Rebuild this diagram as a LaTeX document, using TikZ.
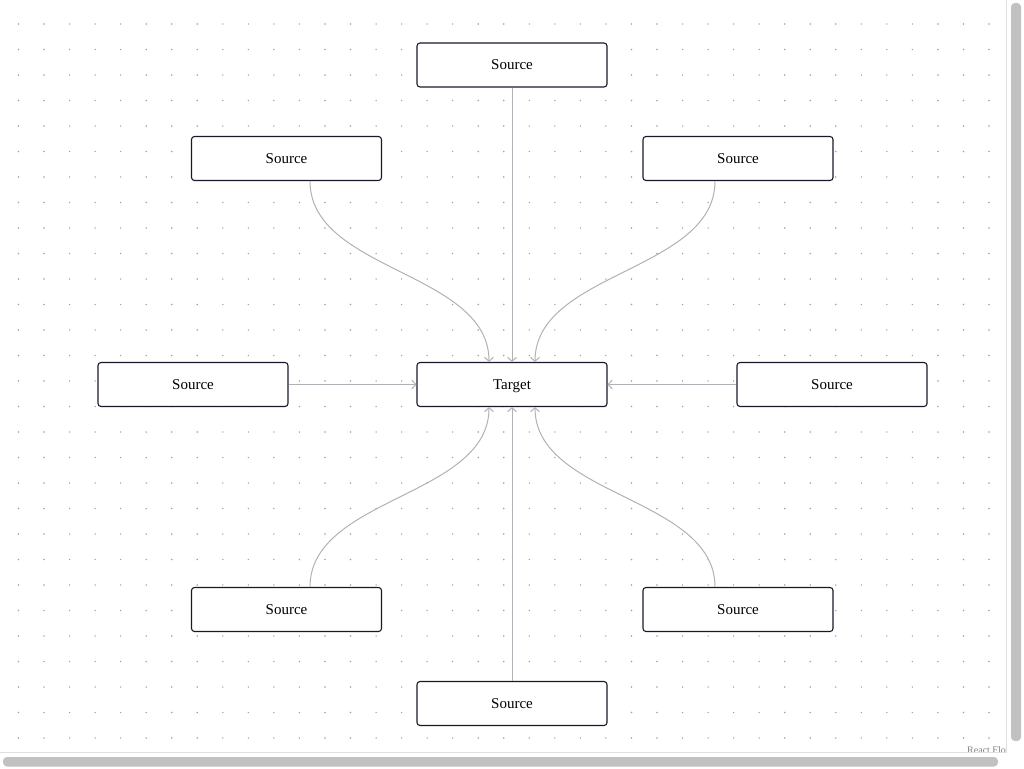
\documentclass[tikz,border=0pt]{standalone}
\usepackage{fontspec}
\setmainfont{Liberation Serif}
\usetikzlibrary{arrows.meta}

\pgfdeclarelayer{bg}
\pgfsetlayers{bg,main}

\definecolor{nodeline}{HTML}{1A192B}
\definecolor{edgeline}{HTML}{B1B1B7}
\definecolor{griddot}{HTML}{A0A0A8}
\definecolor{thumb}{HTML}{C1C1C1}

\tikzset{
  flownode/.style={shape=rectangle,draw=nodeline,fill=white,rounded corners=3pt,
    line width=1.1pt,minimum width=190pt,minimum height=44pt,inner sep=0pt,
    text height=13pt,text depth=3pt,
    font=\fontsize{15}{18}\selectfont},
  flowedge/.style={draw=edgeline,line width=1pt,
    -{Straight Barb[length=4pt,width=9pt]}},
}

\begin{document}
\begin{tikzpicture}[x=1pt,y=-1pt]

  \useasboundingbox (0,0) rectangle (1024,768);

  % draw dot grid in the background
  \begin{pgfonlayer}{bg}
  \foreach \i in {0,...,39} {
    \foreach \j in {0,...,28} {
      \fill[griddot] (18.5+\i*25.54,24+\j*25.5) circle (0.8pt);
    };
  };
  \end{pgfonlayer}

  % draw target in the middle
  \node[flownode] (target) at (512,384.5) {Target};

  % draw sources around it
  \foreach \name/\x/\y in {top/512/65,topleft/286.5/158.5,topright/738/158.5,
      left/193/384.5,right/832/384.5,
      bottomleft/286.5/609.5,bottomright/738/609.5,bottom/512/703.5} {
    \node[flownode] (\name) at (\x,\y) {Source};
  };

  % straight edges
  \draw[flowedge] (top.south) -- (target.north);
  \draw[flowedge] (bottom.north) -- (target.south);
  \draw[flowedge] (left.east) -- (target.west);
  \draw[flowedge] (right.west) -- (target.east);

  % curved edges
  \draw[flowedge] ([xshift=23.5pt]topleft.south) .. controls +(0,90.5) and +(0,-90.5) .. ([xshift=-23pt]target.north);
  \draw[flowedge] ([xshift=-23pt]topright.south) .. controls +(0,90.5) and +(0,-90.5) .. ([xshift=23pt]target.north);
  \draw[flowedge] ([xshift=23.5pt]bottomleft.north) .. controls +(0,-90) and +(0,90) .. ([xshift=-23pt]target.south);
  \draw[flowedge] ([xshift=-23pt]bottomright.north) .. controls +(0,-90) and +(0,90) .. ([xshift=23pt]target.south);

  % attribution, mostly under the scrollbars
  \node[anchor=north west,inner sep=0pt,text=gray,font=\fontsize{10}{12}\selectfont] (credit) at (967,746) {React Flow};

  % scrollbars
  \fill[white] (1006,0) rectangle (1024,768);
  \fill[white] (0,752) rectangle (1024,768);
  \draw[gray!25,line width=1pt] (1006,0) -- (1006,752) -- (0,752);
  \fill[thumb,rounded corners=4pt] (1011,3) rectangle (1021,741);
  \fill[thumb,rounded corners=4pt] (3,757) rectangle (998,766.5);

\end{tikzpicture}
\end{document}
